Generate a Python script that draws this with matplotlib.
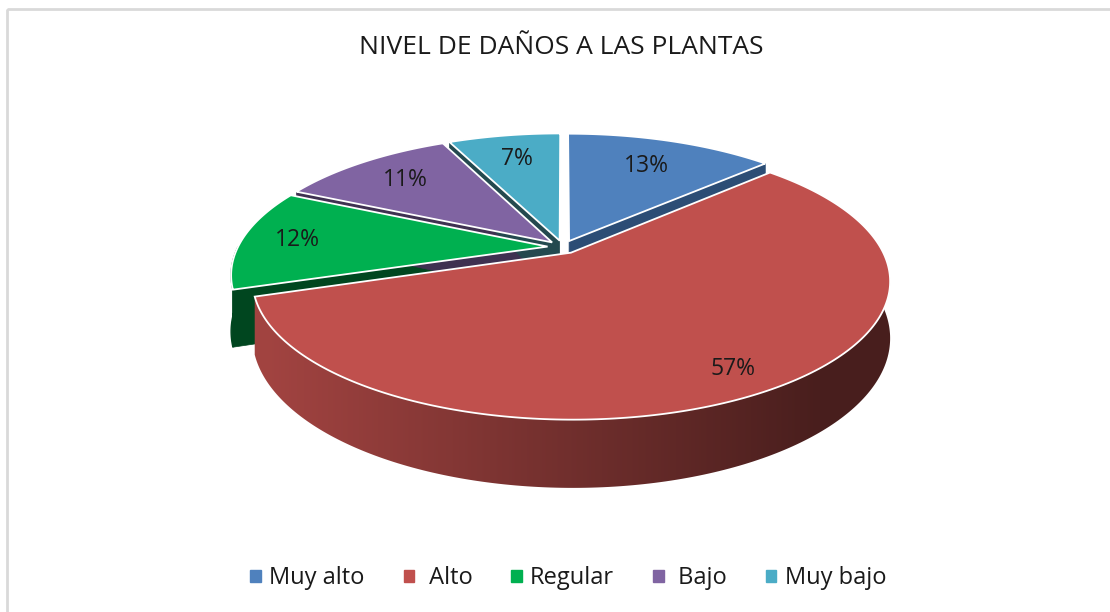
import numpy as np
import matplotlib
matplotlib.use("Agg")
import matplotlib.pyplot as plt
from matplotlib.patches import Polygon, Patch, Rectangle
from matplotlib.colors import to_rgb

plt.rcParams["font.family"] = ["Open Sans", "DejaVu Sans"]

# datos
categorias = ["Muy alto", " Alto", "Regular", " Bajo", "Muy bajo"]
valores = [13, 57, 12, 11, 7]
colores = ["#4F81BD", "#C0504D", "#00B050", "#8064A2", "#4BACC6"]
colores_corte = ["#2C4D75", "#4A1C1C", "#00461F", "#3F3151", "#24494F"]
titulo = "NIVEL DE DAÑOS A LAS PLANTAS"

# geometría del pastel 3D (pixeles)
CX, CY = 563, 247
RX, RY = 309.6, 131
ALTO = 54
PERSP = 0.2
EXPLOTA = 0.05
radio_etiqueta = [0.72, 0.86, 0.82, 0.75, 0.74]


def proyecta(px, py, z=0.0):
    p = 1.0 / (1.0 + PERSP * py)
    return CX + RX * px * p, CY - RY * py * p + ALTO * z * p


def oscurece(c, f):
    r, g, b = to_rgb(c)
    return (r * f, g * f, b * f)


fig = plt.figure(figsize=(11.1, 6.12), dpi=100)
ax = fig.add_axes([0, 0, 1, 1])
ax.axis("off")

ax.add_patch(Rectangle((7, 9), 1200, 700, fill=False, edgecolor="#D9D9D9", lw=2))

total = sum(valores)
acum = np.concatenate([[0], np.cumsum(valores)])
ang0 = 90 - 360 * acum[:-1] / total
ang1 = 90 - 360 * acum[1:] / total

for i in range(len(valores)):
    a0, a1 = np.radians(ang0[i]), np.radians(ang1[i])
    mid = (a0 + a1) / 2
    ex, ey = EXPLOTA * np.cos(mid), EXPLOTA * np.sin(mid)
    th = np.linspace(a0, a1, 240)

    # caras radiales visibles
    for a, signo in ((a0, 1), (a1, -1)):
        normal = a + signo * np.pi / 2
        if np.sin(normal) < -0.05:
            pts = [proyecta(ex, ey, 0), proyecta(ex + np.cos(a), ey + np.sin(a), 0),
                   proyecta(ex + np.cos(a), ey + np.sin(a), 1), proyecta(ex, ey, 1)]
            ax.add_patch(Polygon(pts, closed=True, facecolor=colores_corte[i],
                                 edgecolor=colores_corte[i], lw=0.5, zorder=2))

    # pared exterior (mitad frontal)
    frente = th[np.sin(th) < 0]
    if len(frente) > 1:
        arriba = [proyecta(ex + np.cos(t), ey + np.sin(t), 0) for t in frente]
        abajo = [proyecta(ex + np.cos(t), ey + np.sin(t), 1) for t in frente[::-1]]
        pared = Polygon(arriba + abajo, closed=True, zorder=3)
        if abs(frente[0] - frente[-1]) < np.radians(25):
            pared.set_facecolor(colores_corte[i])
            pared.set_edgecolor(colores_corte[i])
            ax.add_patch(pared)
        else:
            pared.set_facecolor("none")
            pared.set_edgecolor("none")
            ax.add_patch(pared)
            xs = np.linspace(200, 920, 400)
            t = np.clip((xs - 270) / (820 - 270), 0, 1)
            f = 0.84 - 0.46 * t
            grad = np.array([[oscurece(colores[i], v) for v in f]])
            ys = [p[1] for p in arriba + abajo]
            im = ax.imshow(grad, extent=(200, 920, max(ys) + 2, min(ys) - 2),
                           aspect="auto", interpolation="bilinear", zorder=3)
            im.set_clip_path(pared)

    # tapa superior
    pts = [proyecta(ex, ey, 0)] + [proyecta(ex + np.cos(t), ey + np.sin(t), 0) for t in th]
    ax.add_patch(Polygon(pts, closed=True, facecolor=colores[i], edgecolor="white",
                         lw=1.3, zorder=4))

    # etiqueta
    fr = radio_etiqueta[i]
    lx, ly = proyecta(ex + fr * np.cos(mid), ey + fr * np.sin(mid), 0)
    ax.text(lx, ly, f"{valores[i]}%", ha="center", va="center", fontsize=16.5,
            color="#1A1A1A", zorder=5)

ax.set_xlim(0, 1110)
ax.set_ylim(612, 0)

ax.text(561, 48, titulo, ha="center", va="center", fontsize=19, color="#1A1A1A")

handles = [Patch(facecolor=c, edgecolor=c) for c in colores]
ax.legend(handles, categorias, loc="center", bbox_to_anchor=(0.512, 0.055), ncol=5,
          frameon=False, fontsize=17, handlelength=0.45, handleheight=0.45,
          handletextpad=0.35, columnspacing=1.65, labelcolor="#1A1A1A")

fig.savefig("out.png", dpi=100)
